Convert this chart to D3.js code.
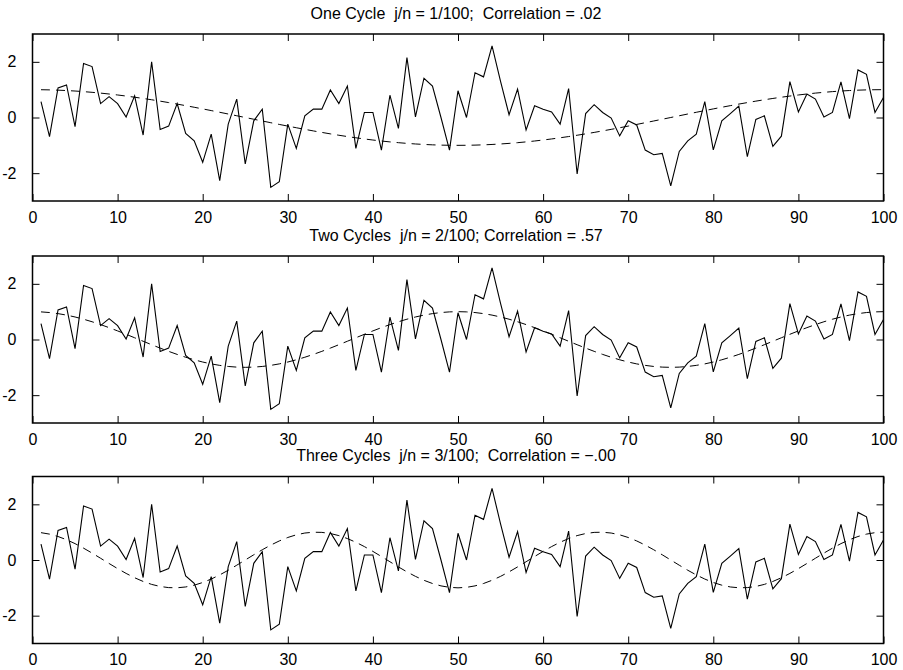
<!DOCTYPE html>
<html>
<head>
<meta charset="utf-8">
<script src="https://cdn.jsdelivr.net/npm/d3@7"></script>
<style>
html,body{margin:0;padding:0;background:#fff;}
svg text{font-family:"Liberation Sans",Arial,Helvetica,sans-serif;white-space:pre;}
</style>
</head>
<body>
<svg id="chart" width="903" height="670"></svg>
<script>
// data series x_t, t = 1..100
const series = [
  0.57,-0.69,1.06,1.17,-0.33,1.94,1.83,0.50,0.75,0.50,
  0.02,0.78,-0.63,2.00,-0.43,-0.31,0.50,-0.57,-0.84,-1.61,
  -0.60,-2.27,-0.24,0.66,-1.67,-0.12,0.30,-2.51,-2.31,-0.24,
  -1.11,0.06,0.30,0.30,0.99,0.50,1.13,-1.11,0.18,0.18,
  -1.17,0.80,-0.39,2.15,0.02,1.41,1.13,0.00,-1.17,0.96,
  0.00,1.61,1.46,2.57,1.30,0.10,1.02,-0.45,0.42,0.30,
  0.20,-0.24,1.04,-2.03,0.14,0.46,0.18,-0.02,-0.66,-0.12,
  -0.27,-1.17,-1.34,-1.29,-2.46,-1.22,-0.84,-0.60,0.57,-1.16,
  -0.12,0.14,0.41,-1.41,-0.07,0.06,-1.04,-0.67,1.29,0.20,
  0.84,0.66,0.02,0.18,1.28,-0.04,1.71,1.55,0.18,0.72
];
const cycles = [1, 2, 3];            // j in j/n
const nObs = 100;                     // n
const titles = [
  "One Cycle  j/n = 1/100;  Correlation = .02",
  "Two Cycles  j/n = 2/100; Correlation = .57",
  "Three Cycles  j/n = 3/100;  Correlation = \u2212.00"
];
const xTicks = [0,10,20,30,40,50,60,70,80,90,100];
const yTicks = [-2, 0, 2];
const xDomain = [0, 100];
const yDomain = [-3, 3];

const svg = d3.select("#chart");
const left = 32.5, right = 883.5;
const panelTops = [34, 256, 476.5];
const panelH = 167;
const tickLen = 7;

const x = d3.scaleLinear().domain(xDomain).range([left, right]);
const t = d3.range(1, nObs + 1);
const fmtY = d => d < 0 ? "-" + Math.abs(d) : String(d);

panelTops.forEach((top, p) => {
  const bottom = top + panelH;
  const y = d3.scaleLinear().domain(yDomain).range([bottom, top]);
  const g = svg.append("g");

  // title
  g.append("text")
    .attr("x", (left + right) / 2 - 2)
    .attr("y", top - 15.5)
    .attr("text-anchor", "middle")
    .attr("font-size", 16)
    .text(titles[p]);

  // cosine (dashed)
  const j = cycles[p];
  const cosPts = t.map(ti => [ti, Math.cos(2 * Math.PI * j * ti / nObs)]);
  g.append("path")
    .datum(cosPts)
    .attr("fill", "none")
    .attr("stroke", "#000")
    .attr("stroke-width", 1)
    .attr("stroke-dasharray", "9,6")
    .attr("d", d3.line().x(d => x(d[0])).y(d => y(d[1])));

  // data (solid)
  g.append("path")
    .datum(series.map((v, i) => [t[i], v]))
    .attr("fill", "none")
    .attr("stroke", "#000")
    .attr("stroke-width", 1.1)
    .attr("stroke-linejoin", "miter")
    .attr("d", d3.line().x(d => x(d[0])).y(d => y(d[1])));

  // axes with inward ticks
  const axB = d3.axisBottom(x).tickValues(xTicks).tickSizeInner(-tickLen).tickSizeOuter(0).tickPadding(10.5);
  const axT = d3.axisTop(x).tickValues(xTicks).tickSizeInner(-tickLen).tickSizeOuter(0).tickFormat("");
  const axL = d3.axisLeft(y).tickValues(yTicks).tickSizeInner(-tickLen).tickSizeOuter(0).tickPadding(16).tickFormat(fmtY);
  const axR = d3.axisRight(y).tickValues(yTicks).tickSizeInner(-tickLen).tickSizeOuter(0).tickFormat("");

  const gb = g.append("g").attr("transform", `translate(0,${bottom})`).call(axB);
  const gt = g.append("g").attr("transform", `translate(0,${top})`).call(axT);
  const gl = g.append("g").attr("transform", `translate(${left},0)`).call(axL);
  const gr = g.append("g").attr("transform", `translate(${right},0)`).call(axR);
  [gb, gt, gl, gr].forEach(a => {
    a.select(".domain").remove();
    a.selectAll(".tick line").attr("stroke", "#000").attr("stroke-width", 1);
    a.selectAll(".tick text").attr("font-size", 16).attr("fill", "#000")
      .attr("font-family", "Liberation Sans, Arial, sans-serif");
  });

  // frame
  g.append("rect")
    .attr("x", left).attr("y", top)
    .attr("width", right - left).attr("height", panelH)
    .attr("fill", "none").attr("stroke", "#000").attr("stroke-width", 1.5);
});
</script>
</body>
</html>
